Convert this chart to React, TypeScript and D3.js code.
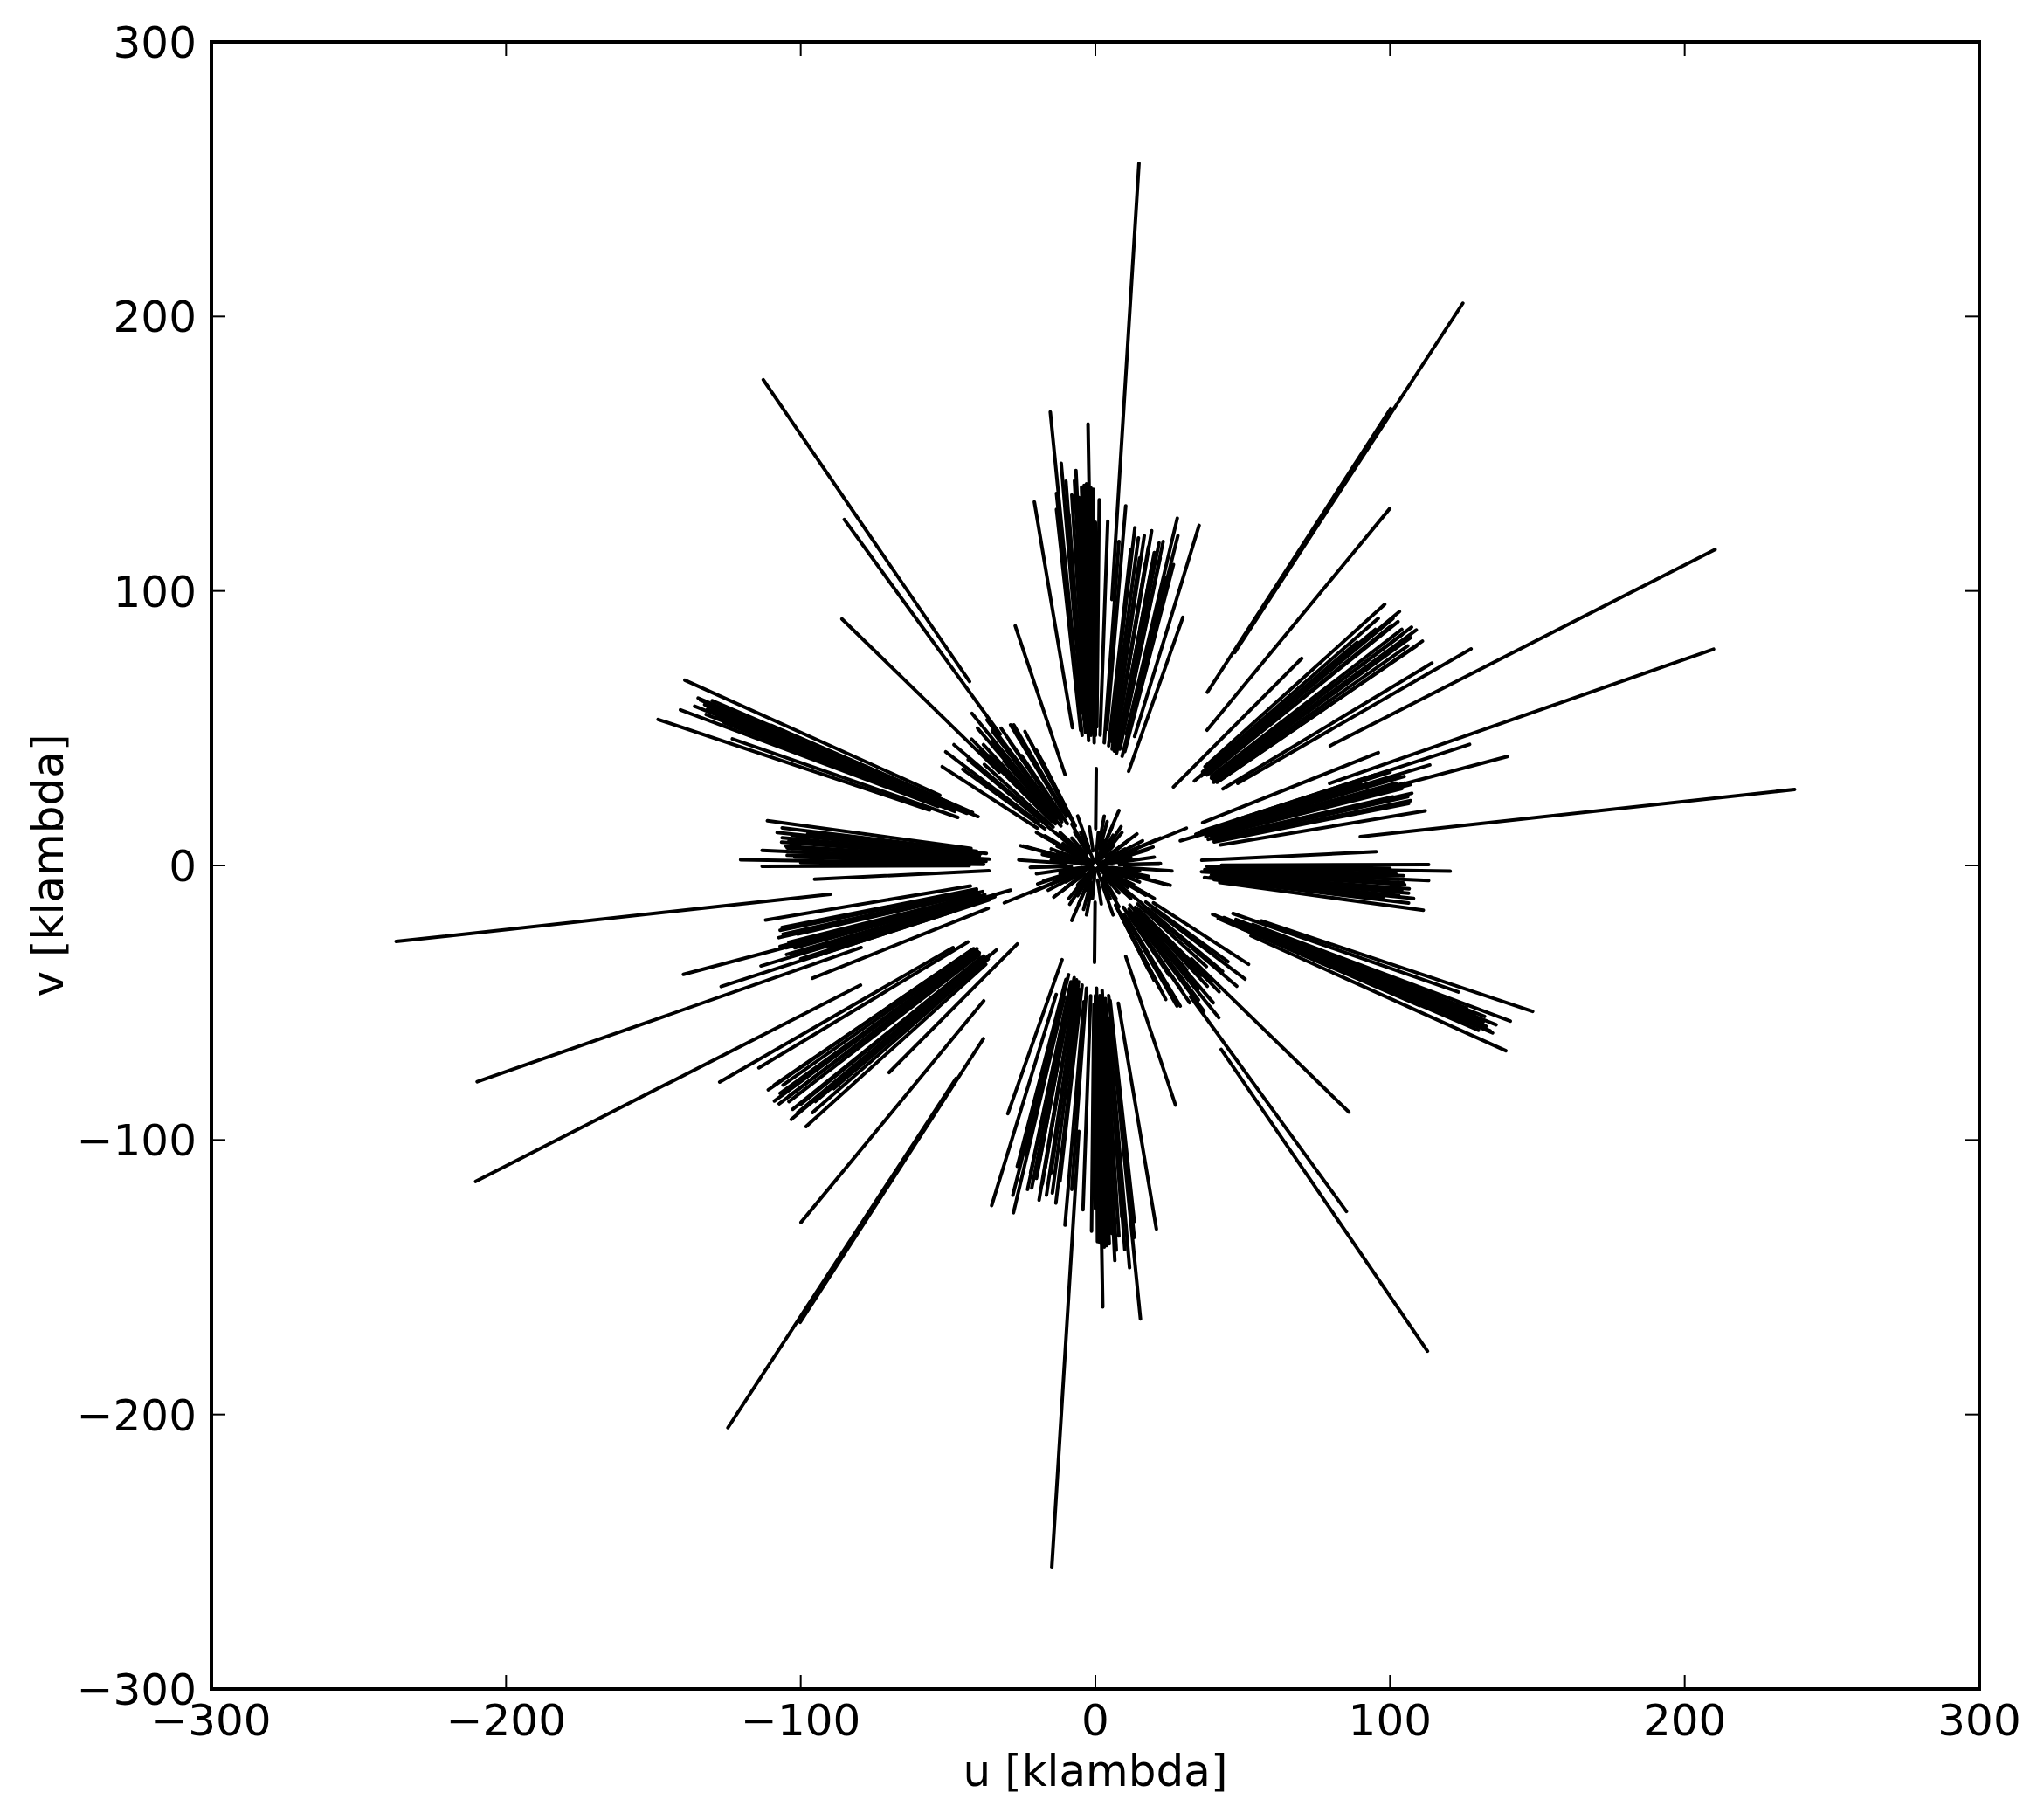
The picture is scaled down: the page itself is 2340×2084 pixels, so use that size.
import React from 'react';
import * as d3 from 'd3';

// Axis ticks (klambda)
const X_TICKS = [-300, -200, -100, 0, 100, 200, 300];
const Y_TICKS = [-300, -200, -100, 0, 100, 200, 300];

// Each track: [u outer, v outer, u inner, v inner]; its conjugate (-u,-v) is drawn too.
type Track = [number, number, number, number];

const northTracks: Track[] = [
  [14.8, 255.8, 5.6, 96.9],
  [-15.3, 165.2, -5.8, 62.6],
  [-2.5, 160.8, -0.9, 61],
  [-11.6, 146.5, -4.4, 55.5],
  [-6.6, 143.9, -2.5, 54.5],
  [-7.1, 140.1, -2.7, 53.1],
  [-20.7, 132.4, -7.8, 50.2],
  [-13.2, 135.5, -5, 51.4],
  [-13.2, 129.7, -5, 49.2],
  [-4.7, 137.8, -1.8, 52.2],
  [-3.8, 138.5, -1.4, 52.5],
  [-3, 139, -1.1, 52.7],
  [-2.2, 138, -0.8, 52.3],
  [-1.5, 137.5, -0.6, 52.1],
  [-0.7, 137, -0.3, 51.9],
  [-5.5, 134, -2.1, 50.8],
  [-9, 128, -3.4, 48.5],
  [-1, 132, -0.4, 50],
  [-2, 128, -0.8, 48.5],
  [-3.5, 130, -1.3, 49.3],
  [-4, 125, -1.5, 47.4],
  [-6, 120, -2.3, 45.5],
  [-8, 135, -3, 51.1],
  [-10, 140, -3.8, 53],
  [-12, 125, -4.5, 47.4],
  [0, 125, 0, 47.4],
  [-1, 118, -0.4, 44.7],
  [1.3, 133.2, 0.5, 50.5],
  [4.2, 125.4, 1.6, 47.5],
  [10.3, 131, 3.9, 49.6],
  [13.4, 123, 5.1, 46.6],
  [14.6, 119.3, 5.5, 45.2],
  [16.6, 120.1, 6.3, 45.5],
  [19.1, 121.9, 7.2, 46.2],
  [21.6, 117.5, 8.2, 44.5],
  [18, 116, 6.8, 44],
  [20, 114, 7.6, 43.2],
  [15, 112, 5.7, 42.4],
  [17, 110, 6.4, 41.7],
  [22, 112, 8.3, 42.4],
  [23, 118, 8.7, 44.7],
  [12, 115, 4.5, 43.6],
  [24, 105, 9.1, 39.8],
  [19, 108, 7.2, 40.9],
  [8, 118, 3, 44.7],
  [27.8, 126.5, 10.5, 47.9],
  [28, 120.1, 10.6, 45.5],
  [26.5, 109.6, 10, 41.5],
  [35.2, 123.9, 13.3, 47],
  [29.7, 90.4, 11.3, 34.3],
  [-27.2, 87.3, -10.3, 33.1],
];

const nwDiagTracks: Track[] = [
  [-112.7, 176.9, -42.7, 67],
  [-85.2, 126, -32.3, 47.8],
  [-86, 89.8, -32.6, 34],
  [-41.9, 55.4, -15.9, 21],
  [-50.8, 41.4, -19.3, 15.7],
  [-43.2, 38.6, -16.4, 14.6],
  [-37.7, 36.8, -14.3, 14],
  [-36.8, 53, -13.9, 20.1],
  [-34.8, 45.2, -13.2, 17.1],
  [-28.8, 51.2, -10.9, 19.4],
  [-27.7, 51.2, -10.5, 19.4],
  [-23.9, 48.8, -9.1, 18.5],
  [-32, 50, -12.1, 19],
  [-22, 45, -8.3, 17.1],
  [-20, 42, -7.6, 15.9],
  [-45, 35, -17.1, 13.3],
  [-38, 44, -14.4, 16.7],
  [-30, 42, -11.4, 15.9],
  [-40, 50, -15.2, 19],
  [-33, 47, -12.5, 17.8],
  [-26, 47, -9.8, 17.8],
  [-36, 40, -13.6, 15.2],
  [-48, 44, -18.2, 16.7],
  [-42, 46, -15.9, 17.4],
  [-25, 40, -9.5, 15.2],
  [-31, 38, -11.7, 14.4],
  [-52, 36, -19.7, 13.6],
  [-18, 38, -6.8, 14.4],
  [-35, 49, -13.3, 18.6],
  [-29, 45, -11, 17.1],
  [-39, 42, -14.8, 16],
];

const nwFanTracks: Track[] = [
  [-139.3, 67.5, -52.8, 25.6],
  [-134.8, 61, -51.1, 23.1],
  [-134, 60.2, -50.8, 22.8],
  [-132.6, 58.6, -50.3, 22.2],
  [-131.6, 57, -49.9, 21.6],
  [-132.1, 55, -50.1, 20.8],
  [-140.8, 56.7, -53.4, 21.5],
  [-148.4, 53.2, -56.3, 20.2],
  [-123.2, 46.1, -46.7, 17.5],
  [-110, 51, -41.7, 19.3],
  [-125, 57, -47.4, 21.6],
  [-120, 53.5, -45.5, 20.3],
  [-115, 50, -43.6, 19],
  [-128, 56, -48.5, 21.2],
  [-105, 47, -39.8, 17.8],
  [-130, 60, -49.2, 22.7],
  [-136, 58, -51.5, 22],
  [-129, 54, -48.9, 20.5],
  [-126, 52, -47.7, 19.7],
];

const neDiagTracks: Track[] = [
  [124.7, 204.8, 47.3, 77.6],
  [100.2, 166.4, 38, 63.1],
  [99.9, 130, 37.9, 49.3],
  [70, 75.4, 26.5, 28.6],
  [88.8, 81.3, 33.6, 30.8],
];

const eneTracks: Track[] = [
  [98.2, 95.1, 37.2, 36],
  [103.2, 92.5, 39.1, 35],
  [102.7, 88.8, 38.9, 33.6],
  [107.3, 86.8, 40.6, 32.9],
  [108.9, 85.8, 41.2, 32.5],
  [105.5, 82.3, 40, 31.2],
  [111, 81.7, 42, 30.9],
  [114.2, 73.7, 43.3, 27.9],
  [127.5, 78.9, 48.3, 29.9],
  [104, 84, 39.4, 31.8],
  [100, 87, 37.9, 33],
  [106, 80, 40.2, 30.3],
  [95, 86, 36, 32.6],
  [101, 90, 38.3, 34.1],
  [104, 86, 39.4, 32.6],
  [107, 83, 40.6, 31.4],
  [96, 90, 36.4, 34.1],
  [109, 80, 41.3, 30.3],
];

const eastFanTracks: Track[] = [
  [210.3, 115.1, 79.7, 43.6],
  [209.8, 78.8, 79.5, 29.9],
  [96, 41.1, 36.4, 15.6],
  [127, 44.1, 48.1, 16.7],
  [139.8, 39.7, 53, 15],
  [113.5, 36.6, 43, 13.9],
  [104.8, 32.4, 39.7, 12.3],
  [107, 29.5, 40.6, 11.2],
  [107.4, 26.3, 40.7, 10],
  [107, 23.6, 40.6, 8.9],
  [106.3, 22.6, 40.3, 8.6],
  [111.9, 19.9, 42.4, 7.5],
  [100, 34, 37.9, 12.9],
  [102, 30, 38.7, 11.4],
  [104, 28, 39.4, 10.6],
  [101, 25, 38.3, 9.5],
  [98, 31, 37.1, 11.7],
  [76, 23.8, 28.8, 9],
  [103, 33, 39, 12.5],
  [105, 30, 39.8, 11.4],
  [99, 28, 37.5, 10.6],
  [106, 25, 40.2, 9.5],
  [95, 33, 36, 12.5],
  [90, 30, 34.1, 11.4],
];

const eastTracks: Track[] = [
  [237.3, 27.7, 89.9, 10.5],
  [95.3, 5, 36.1, 1.9],
  [113.1, 0.3, 42.8, 0.1],
  [120.4, -2.1, 45.6, -0.8],
  [104.6, -3.7, 39.6, -1.4],
  [113.1, -5.5, 42.8, -2.1],
  [104.6, -6.4, 39.6, -2.4],
  [106.5, -8.5, 40.4, -3.2],
  [106.3, -10.1, 40.3, -3.8],
  [106.3, -13.7, 40.3, -5.2],
  [111.3, -16.3, 42.2, -6.2],
  [97.6, -11.6, 37, -4.4],
  [100, -1, 37.9, -0.4],
  [102, -3, 38.7, -1.1],
  [103, -5, 39, -1.9],
  [105, -7, 39.8, -2.7],
  [104, -9, 39.4, -3.4],
  [103, -11, 39, -4.2],
  [98, -4, 37.1, -1.5],
  [95, -6, 36, -2.3],
  [108, -12, 40.9, -4.5],
];

const centreTracks: Track[] = [
  [-25.4, 7.2, -9.6, 2.7],
  [-22.1, -0.7, -8.4, -0.3],
  [-18, 10.7, -6.8, 4.1],
  [5.7, 14.1, 2.2, 5.3],
  [8.7, 14.1, 3.3, 5.3],
  [14.1, 11.5, 5.3, 4.4],
  [17.6, 5.6, 6.7, 2.1],
  [21.6, 0.5, 8.2, 0.2],
  [24.5, -7.1, 9.3, -2.7],
  [17.1, -10.8, 6.5, -4.1],
  [19.6, 6.7, 7.4, 2.5],
  [0.3, 35.3, 0.1, 13.4],
  [30.9, 13.6, 11.7, 5.2],
  [-12, 12, -4.5, 4.5],
  [10, 8, 3.8, 3],
  [12, -4, 4.5, -1.5],
  [-8, 15, -3, 5.7],
  [-15, 6, -5.7, 2.3],
  [3, 18, 1.1, 6.8],
  [12, 3, 4.6, 1.1],
  [14, 6, 5.3, 2.3],
  [11, 9, 4.2, 3.4],
  [9, 12, 3.4, 4.6],
  [6, 11, 2.3, 4.2],
  [4, 16, 1.5, 6.1],
  [1, 12, 0.4, 4.6],
  [-2, 14, -0.8, 5.3],
  [-5, 12, -1.9, 4.6],
  [-8, 10, -3, 3.8],
  [-11, 8, -4.2, 3],
  [-13, 5, -4.9, 1.9],
  [-14, 2, -5.3, 0.8],
  [-12, -2, -4.6, -0.8],
  [-10, -6, -3.8, -2.3],
  [15, -2, 5.7, -0.8],
  [13, -7, 4.9, -2.7],
  [10, -10, 3.8, -3.8],
  [7, -12, 2.7, -4.6],
  [16, 9, 6.1, 3.4],
  [20, 3, 7.6, 1.1],
  [-18, 4, -6.8, 1.5],
  [-6, 18, -2.3, 6.8],
  [8, 20, 3, 7.6],
  [-16, 14, -6.1, 5.3],
  [22, 10, 8.4, 3.8],
  [26, -2, 9.9, -0.8],
  [-20, 12, -7.6, 4.6],
  [5, 2, 1.9, 0.8],
  [3, 5, 1.1, 1.9],
  [-4, 4, -1.5, 1.5],
  [6, -3, 2.3, -1.1],
  [0.5, 6, 0.2, 2.3],
  [-6, 1, -2.3, 0.4],
  [8, 4, 1, 0.5],
  [-7, 6, -1, 0.8],
  [3, 9, 0.4, 1.2],
  [9, -2, 1.2, -0.3],
  [-9, -3, -1.2, -0.4],
  [6, 7, 0.8, 0.9],
  [-3, 8, -0.4, 1.1],
  [7, -6, 0.9, -0.8],
  [11, 2, 1.4, 0.3],
  [-10, 4, -1.3, 0.5],
];

const TRACK_GROUPS = [
  northTracks,
  nwDiagTracks,
  nwFanTracks,
  neDiagTracks,
  eneTracks,
  eastFanTracks,
  eastTracks,
  centreTracks,
];

const FONT = 'DejaVu Sans, sans-serif';

function fmt(t: number): string {
  return t < 0 ? '\u2212' + Math.abs(t) : String(t);
}

export default function App() {
  const W = 2340;
  const H = 2084;
  const L = 242, R = 2266, T = 48, B = 1934;
  const x = d3.scaleLinear().domain([-300, 300]).range([L, R]);
  const y = d3.scaleLinear().domain([-300, 300]).range([B, T]);
  const line = d3
    .line<[number, number]>()
    .x((d) => x(d[0]))
    .y((d) => y(d[1]));

  const paths: string[] = [];
  TRACK_GROUPS.forEach((g) =>
    g.forEach(([u1, v1, u2, v2]) => {
      paths.push(line([[u1, v1], [u2, v2]]) as string);
      paths.push(line([[-u1, -v1], [-u2, -v2]]) as string);
    })
  );

  const tickLen = 16;

  return (
    <div style={{ position: 'absolute', left: 0, top: 0, width: W, height: H, background: '#fff' }}>
      <svg width={W} height={H} viewBox={`0 0 ${W} ${H}`} style={{ display: 'block' }}>
        <rect x={0} y={0} width={W} height={H} fill="#fff" />
        <defs>
          <clipPath id="plotclip">
            <rect x={L} y={T} width={R - L} height={B - T} />
          </clipPath>
        </defs>
        <g clipPath="url(#plotclip)">
          {paths.map((d, i) => (
            <path key={i} d={d} fill="none" stroke="#000" strokeWidth={4} strokeLinecap="round" />
          ))}
        </g>
        {X_TICKS.map((t) => (
          <g key={'xt' + t}>
            <line x1={x(t)} x2={x(t)} y1={B} y2={B - tickLen} stroke="#000" strokeWidth={2} />
            <line x1={x(t)} x2={x(t)} y1={T} y2={T + tickLen} stroke="#000" strokeWidth={2} />
            <text x={x(t)} y={1987} textAnchor="middle" fontFamily={FONT} fontSize={50} fill="#000">
              {fmt(t)}
            </text>
          </g>
        ))}
        {Y_TICKS.map((t) => (
          <g key={'yt' + t}>
            <line x1={L} x2={L + tickLen} y1={y(t)} y2={y(t)} stroke="#000" strokeWidth={2} />
            <line x1={R} x2={R - tickLen} y1={y(t)} y2={y(t)} stroke="#000" strokeWidth={2} />
            <text x={225} y={y(t) + 18} textAnchor="end" fontFamily={FONT} fontSize={50} fill="#000">
              {fmt(t)}
            </text>
          </g>
        ))}
        <rect x={L} y={T} width={R - L} height={B - T} fill="none" stroke="#000" strokeWidth={4} />
        <text x={(L + R) / 2} y={2045} textAnchor="middle" fontFamily={FONT} fontSize={50} fill="#000">
          u [klambda]
        </text>
        <text
          transform={`translate(72, ${(T + B) / 2}) rotate(-90)`}
          textAnchor="middle"
          fontFamily={FONT}
          fontSize={50}
          fill="#000"
        >
          v [klambda]
        </text>
      </svg>
    </div>
  );
}
